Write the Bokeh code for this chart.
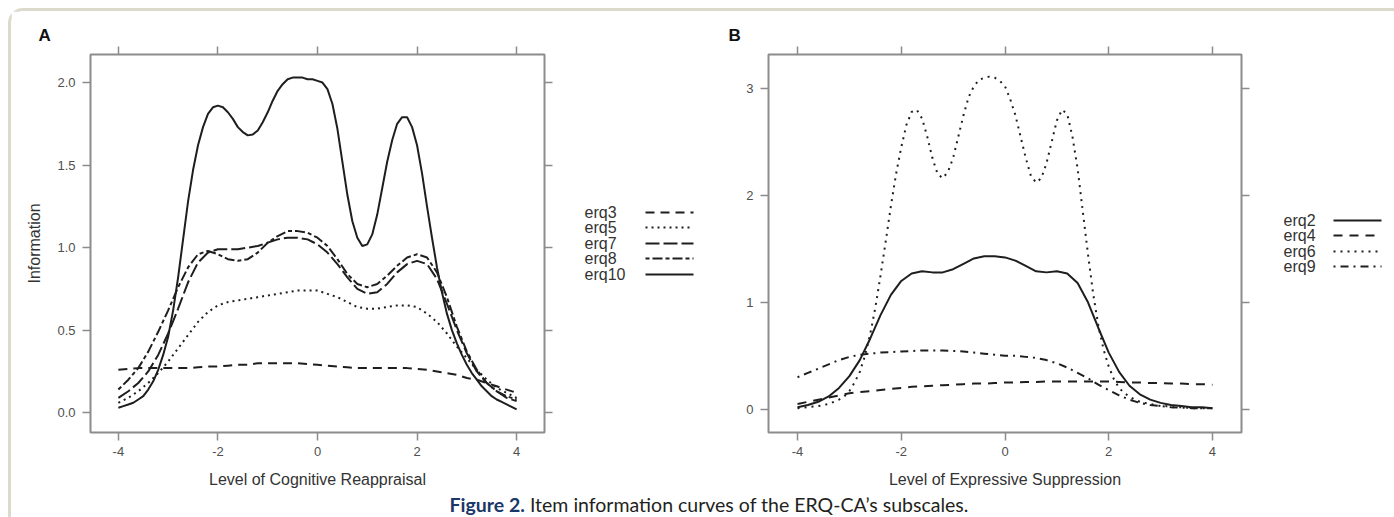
from bokeh.plotting import figure
from bokeh.models import Range1d, LinearAxis, FixedTicker, Div, CustomJSTickFormatter
from bokeh.layouts import row, column
from bokeh.core.properties import value
from bokeh.embed import file_html
from bokeh.resources import INLINE

# ---------------- data ----------------
theta = [-4.0, -3.8, -3.6, -3.4, -3.2, -3.0, -2.8, -2.6, -2.4, -2.2, -2.0,
         -1.8, -1.6, -1.4, -1.2, -1.0, -0.8, -0.6, -0.4, -0.2, 0.0,
         0.2, 0.4, 0.6, 0.8, 1.0, 1.2, 1.4, 1.6, 1.8, 2.0,
         2.2, 2.4, 2.6, 2.8, 3.0, 3.2, 3.4, 3.6, 3.8, 4.0]

theta_fine = [-4.0, -3.9, -3.8, -3.7, -3.6, -3.5, -3.4, -3.3, -3.2, -3.1,
              -3.0, -2.9, -2.8, -2.7, -2.6, -2.5, -2.4, -2.3, -2.2, -2.1,
              -2.0, -1.9, -1.8, -1.7, -1.6, -1.5, -1.4, -1.3, -1.2, -1.1,
              -1.0, -0.9, -0.8, -0.7, -0.6, -0.5, -0.4, -0.3, -0.2, -0.1,
              0.0, 0.1, 0.2, 0.3, 0.4, 0.5, 0.6, 0.7, 0.8, 0.9,
              1.0, 1.1, 1.2, 1.3, 1.4, 1.5, 1.6, 1.7, 1.8, 1.9,
              2.0, 2.1, 2.2, 2.3, 2.4, 2.5, 2.6, 2.7, 2.8, 2.9,
              3.0, 3.1, 3.2, 3.3, 3.4, 3.5, 3.6, 3.7, 3.8, 3.9,
              4.0]

# Panel A: Cognitive Reappraisal
erq3 = [0.26, 0.265, 0.27, 0.27, 0.27, 0.27, 0.27, 0.27, 0.275, 0.28, 0.28,
        0.285, 0.29, 0.29, 0.30, 0.30, 0.30, 0.30, 0.30, 0.295, 0.29,
        0.285, 0.28, 0.275, 0.27, 0.27, 0.27, 0.27, 0.27, 0.27, 0.265,
        0.26, 0.25, 0.24, 0.23, 0.21, 0.20, 0.18, 0.16, 0.14, 0.12]
erq5 = [0.06, 0.09, 0.13, 0.18, 0.24, 0.31, 0.39, 0.47, 0.55, 0.61, 0.65,
        0.67, 0.68, 0.69, 0.70, 0.71, 0.72, 0.73, 0.74, 0.74, 0.74,
        0.72, 0.70, 0.67, 0.64, 0.63, 0.63, 0.64, 0.65, 0.65, 0.64,
        0.60, 0.55, 0.48, 0.40, 0.33, 0.26, 0.20, 0.15, 0.12, 0.09]
erq7 = [0.09, 0.13, 0.18, 0.25, 0.35, 0.48, 0.63, 0.79, 0.91, 0.97, 0.99,
        0.99, 0.99, 1.00, 1.01, 1.03, 1.05, 1.06, 1.06, 1.05, 1.02,
        0.97, 0.90, 0.82, 0.75, 0.72, 0.73, 0.78, 0.85, 0.90, 0.92,
        0.90, 0.81, 0.66, 0.50, 0.36, 0.25, 0.18, 0.13, 0.09, 0.07]
erq8 = [0.14, 0.20, 0.27, 0.37, 0.49, 0.62, 0.76, 0.88, 0.96, 0.98, 0.96,
        0.93, 0.92, 0.93, 0.97, 1.03, 1.07, 1.10, 1.10, 1.09, 1.06,
        1.01, 0.93, 0.84, 0.78, 0.76, 0.78, 0.83, 0.89, 0.94, 0.96,
        0.94, 0.85, 0.70, 0.52, 0.37, 0.26, 0.18, 0.13, 0.10, 0.08]
erq10 = [0.03, 0.04, 0.05, 0.06, 0.08, 0.10, 0.14, 0.19, 0.26, 0.35,
         0.46, 0.62, 0.82, 1.05, 1.28, 1.47, 1.62, 1.73, 1.81, 1.85,
         1.86, 1.85, 1.82, 1.78, 1.73, 1.70, 1.68, 1.685, 1.71, 1.76,
         1.82, 1.89, 1.95, 1.99, 2.02, 2.03, 2.03, 2.03, 2.02, 2.02,
         2.01, 2.00, 1.96, 1.87, 1.72, 1.52, 1.32, 1.16, 1.06, 1.01,
         1.02, 1.08, 1.20, 1.36, 1.52, 1.65, 1.75, 1.79, 1.79, 1.73,
         1.62, 1.45, 1.25, 1.06, 0.88, 0.73, 0.60, 0.50, 0.42, 0.35,
         0.29, 0.24, 0.20, 0.16, 0.13, 0.10, 0.08, 0.065, 0.05, 0.035,
         0.02]

# Panel B: Expressive Suppression
erq2 = [0.02, 0.04, 0.07, 0.12, 0.20, 0.31, 0.46, 0.66, 0.88, 1.07, 1.20,
        1.27, 1.29, 1.28, 1.28, 1.31, 1.36, 1.41, 1.43, 1.43, 1.42,
        1.39, 1.34, 1.29, 1.28, 1.29, 1.27, 1.18, 1.00, 0.76, 0.53,
        0.35, 0.22, 0.14, 0.09, 0.06, 0.04, 0.03, 0.02, 0.02, 0.01]
erq4 = [0.05, 0.07, 0.09, 0.11, 0.13, 0.15, 0.16, 0.17, 0.18, 0.19, 0.20,
        0.21, 0.215, 0.22, 0.225, 0.23, 0.235, 0.24, 0.24, 0.245, 0.25,
        0.25, 0.255, 0.255, 0.26, 0.26, 0.26, 0.26, 0.26, 0.26, 0.26,
        0.255, 0.25, 0.25, 0.245, 0.245, 0.24, 0.24, 0.235, 0.235, 0.23]
erq6 = [0.01, 0.015, 0.02, 0.025, 0.03, 0.04, 0.05, 0.07, 0.09, 0.12,
        0.17, 0.25, 0.35, 0.50, 0.70, 0.95, 1.25, 1.57, 1.90, 2.20,
        2.45, 2.66, 2.78, 2.80, 2.72, 2.55, 2.35, 2.20, 2.16, 2.22,
        2.35, 2.55, 2.75, 2.92, 3.02, 3.08, 3.10, 3.11, 3.10, 3.07,
        3.02, 2.90, 2.75, 2.55, 2.35, 2.18, 2.12, 2.16, 2.30, 2.50,
        2.70, 2.80, 2.76, 2.55, 2.25, 1.85, 1.45, 1.08, 0.78, 0.56,
        0.40, 0.28, 0.20, 0.15, 0.12, 0.09, 0.07, 0.06, 0.05, 0.04,
        0.03, 0.03, 0.02, 0.02, 0.02, 0.015, 0.01, 0.01, 0.01, 0.01,
        0.01]
erq9 = [0.30, 0.34, 0.38, 0.42, 0.46, 0.49, 0.51, 0.52, 0.53, 0.535, 0.54,
        0.545, 0.55, 0.55, 0.55, 0.545, 0.54, 0.53, 0.52, 0.51, 0.50,
        0.50, 0.49, 0.48, 0.46, 0.43, 0.39, 0.34, 0.29, 0.23, 0.18,
        0.13, 0.09, 0.06, 0.04, 0.03, 0.02, 0.015, 0.01, 0.01, 0.01]

x_ticks = [-4, -2, 0, 2, 4]
x_tick_labels = ["-4", "-2", "0", "2", "4"]
a_y_ticks = [0.0, 0.5, 1.0, 1.5, 2.0]
a_y_tick_labels = ["0.0", "0.5", "1.0", "1.5", "2.0"]
b_y_ticks = [0, 1, 2, 3]
b_y_tick_labels = ["0", "1", "2", "3"]

a_names = ["erq3", "erq5", "erq7", "erq8", "erq10"]
a_series = [(theta, erq3), (theta, erq5), (theta, erq7), (theta, erq8), (theta_fine, erq10)]
b_names = ["erq2", "erq4", "erq6", "erq9"]
b_series = [(theta, erq2), (theta, erq4), (theta_fine, erq6), (theta, erq9)]

# ---------------- style ----------------
FONT = "Liberation Sans"
BOX = "#8c8c8c"
TICKC = "#505050"
LABC = "#333333"
LINEC = "#1e1e1e"
DASH_A = ["9 6", "2 4", "14 4", "4 3 10 3", "solid"]
DASH_B = ["solid", "9 7", "2 5", "2 5 8 5"]

FRAME_TOP, FRAME_H = 43, 378   # frame top offset inside each figure, frame height


def make_panel(xr, yr, fw, left, right, bottom, xlab, ylab, yt, ytl, letter, letter_off):
    p = figure(frame_width=fw, frame_height=FRAME_H, x_range=Range1d(*xr), y_range=Range1d(*yr),
               output_backend="svg", toolbar_location=None,
               x_axis_location=None, y_axis_location=None,
               min_border_left=left, min_border_right=right,
               min_border_top=FRAME_TOP, min_border_bottom=bottom)
    p.grid.grid_line_color = None
    p.outline_line_color = BOX
    p.outline_line_width = 2
    p.background_fill_color = "white"
    p.border_fill_color = "white"

    p.title.text = letter
    p.title.align = "left"
    p.title.offset = letter_off
    p.title.standoff = 3
    p.title.text_font = FONT
    p.title.text_font_size = "17px"
    p.title.text_font_style = "bold"
    p.title.text_color = "#111111"

    common = dict(axis_line_color=None, major_tick_line_color=BOX, major_tick_line_width=1.5,
                  major_tick_out=8, major_tick_in=0, minor_tick_out=0, minor_tick_in=0,
                  major_label_text_font=FONT, major_label_text_font_size="13px",
                  major_label_text_color=TICKC, axis_label_text_font=FONT,
                  axis_label_text_font_size="16px", axis_label_text_font_style="normal",
                  axis_label_text_color=LABC)
    blank = CustomJSTickFormatter(code="return ''")

    bx = LinearAxis(ticker=FixedTicker(ticks=x_ticks),
                    formatter=CustomJSTickFormatter(args=dict(labels=x_tick_labels), code="return labels[index]"),
                    axis_label=xlab, major_label_standoff=6, axis_label_standoff=12, **common)
    p.add_layout(bx, "below")
    ly = LinearAxis(ticker=FixedTicker(ticks=yt),
                    formatter=CustomJSTickFormatter(args=dict(labels=ytl), code="return labels[index]"),
                    axis_label=ylab, major_label_standoff=7, axis_label_standoff=11, **common)
    p.add_layout(ly, "left")
    tx = LinearAxis(ticker=FixedTicker(ticks=x_ticks), formatter=blank, major_label_standoff=0, **common)
    p.add_layout(tx, "above")
    ry = LinearAxis(ticker=FixedTicker(ticks=yt), formatter=blank, major_label_standoff=0, **common)
    p.add_layout(ry, "right")
    return p


xr = (-4.56, 4.56)
yrA = (-0.12, 2.17)
yrB = (-0.217, 3.317)

# Panel A
pA = make_panel(xr, yrA, 454, 79, 39, 59, "Level of Cognitive Reappraisal", "Information",
                a_y_ticks, a_y_tick_labels, "A", -52)
for (xs, ys), d in zip(a_series, DASH_A):
    pA.line(xs, ys, line_color=LINEC, line_width=2, line_dash=d)

# Panel B
pB = make_panel(xr, yrB, 473, 68, 40, 59, "Level of Expressive Suppression", "",
                b_y_ticks, b_y_tick_labels, "B", -40)
for (xs, ys), d in zip(b_series, DASH_B):
    pB.line(xs, ys, line_color=LINEC, line_width=2, line_dash=d)


def legend_fig(x0, x1, names, dashes, tx, lx0, lx1, ys):
    # page-pixel coordinate canvas; its frame is aligned with the panels' frames
    w = x1 - x0
    f = figure(frame_width=w, frame_height=FRAME_H, x_range=Range1d(x0, x1),
               y_range=Range1d(54 + FRAME_H, 54),
               output_backend="svg", toolbar_location=None,
               x_axis_location=None, y_axis_location=None,
               min_border_left=0, min_border_right=0, min_border_top=FRAME_TOP, min_border_bottom=59)
    f.grid.grid_line_color = None
    f.outline_line_color = None
    f.text(x=[tx] * len(names), y=ys, text=names, text_font=value(FONT),
           text_font_size="16px", text_color=LABC, text_baseline="middle", text_align="left")
    for d, y in zip(dashes, ys):
        f.line([lx0, lx1], [y, y], line_color=LINEC, line_width=2, line_dash=d)
    return f


legA = legend_fig(583, 700, a_names, DASH_A, 584, 645, 693, [212, 227, 243, 258, 274])
legB = legend_fig(1281, 1386, b_names, DASH_B, 1283, 1333, 1381, [220, 235, 251, 266])

cap = Div(text='<div style="width: 1375px; box-sizing: border-box; padding-left: 11px; '
               'font-family: Lato, sans-serif; font-size: 19.5px; line-height: 18px; '
               'text-align: center; color: #231f20; white-space: nowrap;">'
               '<span style="color: #1b3768; font-weight: bold;">Figure 2.</span> '
               'Item information curves of the ERQ-CA\u2019s subscales.</div>',
          width=1375, height=18)

layout = column(row(pA, legA, pB, legB), cap,
                styles={"margin-left": "8px", "margin-top": "8px",
                        "border-top": "3px solid #dcd9cd", "border-left": "3px solid #dcd9cd",
                        "border-top-left-radius": "15px", "background": "white"})

open("out.html", "w").write(file_html(layout, INLINE))
